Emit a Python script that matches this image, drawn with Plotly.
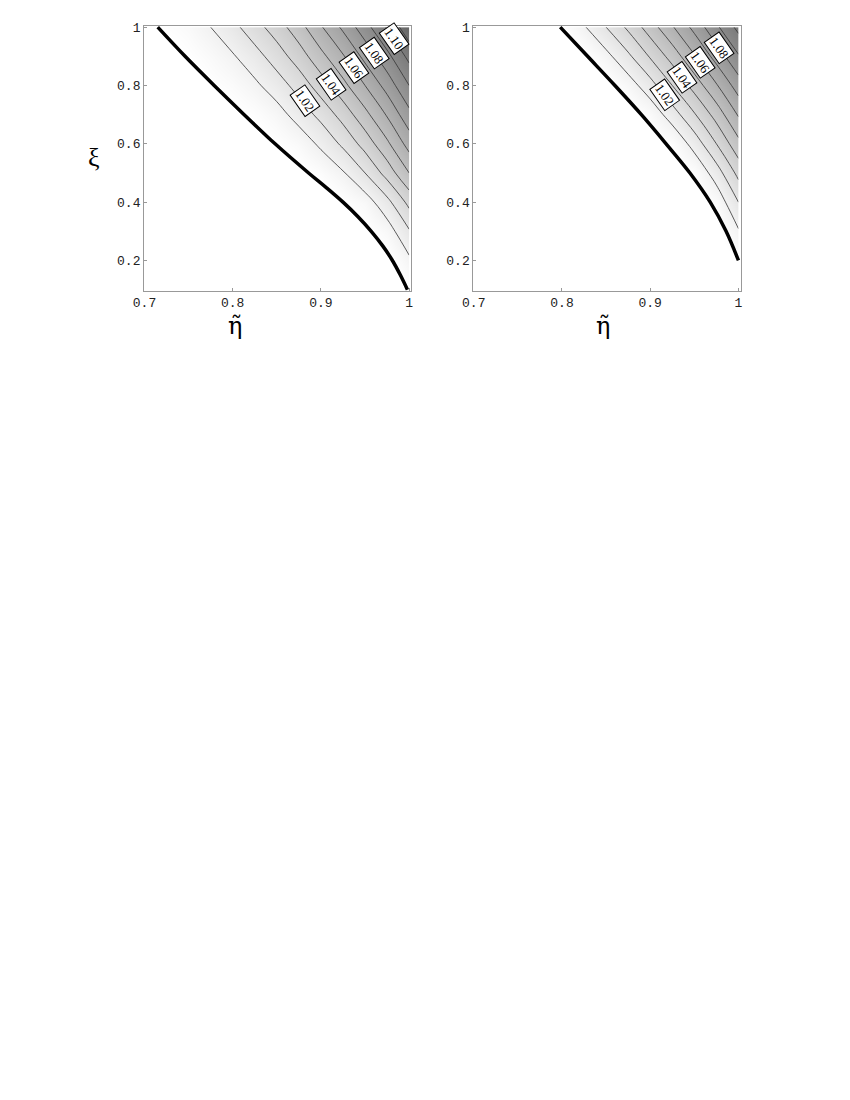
import plotly.graph_objects as go

# ─── Data ─────────────────────────────────────────────────────────────────────

eta = [0.700, 0.725, 0.750, 0.775, 0.800, 0.825, 0.850, 0.875, 0.900, 0.925, 0.950, 0.975, 1.000]
xi = [0.1, 0.2, 0.3, 0.4, 0.5, 0.6, 0.7, 0.8, 0.9, 1.0]

# one row per xi value, one column per eta value
z_left = [
    [0.940, 0.945, 0.950, 0.955, 0.960, 0.965, 0.970, 0.975, 0.980, 0.985, 0.990, 0.995, 1.000],
    [0.943, 0.948, 0.953, 0.958, 0.963, 0.968, 0.973, 0.978, 0.983, 0.988, 0.993, 0.998, 1.008],
    [0.949, 0.954, 0.959, 0.964, 0.969, 0.974, 0.979, 0.984, 0.989, 0.994, 0.999, 1.005, 1.019],
    [0.955, 0.960, 0.965, 0.970, 0.975, 0.980, 0.985, 0.990, 0.995, 1.000, 1.005, 1.017, 1.033],
    [0.963, 0.968, 0.973, 0.978, 0.983, 0.988, 0.993, 0.998, 1.002, 1.009, 1.020, 1.034, 1.050],
    [0.971, 0.976, 0.981, 0.986, 0.991, 0.996, 1.000, 1.004, 1.012, 1.022, 1.034, 1.048, 1.064],
    [0.978, 0.983, 0.988, 0.993, 0.998, 1.001, 1.006, 1.014, 1.023, 1.034, 1.047, 1.061, 1.077],
    [0.985, 0.990, 0.995, 1.000, 1.003, 1.008, 1.015, 1.024, 1.035, 1.047, 1.060, 1.074, 1.090],
    [0.991, 0.996, 1.000, 1.004, 1.009, 1.016, 1.025, 1.035, 1.047, 1.059, 1.073, 1.087, 1.103],
    [0.997, 1.001, 1.004, 1.010, 1.017, 1.026, 1.035, 1.046, 1.059, 1.072, 1.086, 1.101, 1.117],
]

z_right = [
    [0.937, 0.942, 0.947, 0.952, 0.957, 0.962, 0.967, 0.972, 0.977, 0.982, 0.987, 0.992, 0.997],
    [0.940, 0.945, 0.950, 0.955, 0.960, 0.965, 0.970, 0.975, 0.980, 0.985, 0.990, 0.995, 1.000],
    [0.943, 0.948, 0.953, 0.958, 0.963, 0.968, 0.973, 0.978, 0.983, 0.988, 0.993, 0.998, 1.009],
    [0.946, 0.951, 0.956, 0.961, 0.966, 0.971, 0.976, 0.981, 0.986, 0.991, 0.996, 1.003, 1.020],
    [0.951, 0.956, 0.961, 0.966, 0.971, 0.976, 0.981, 0.986, 0.991, 0.996, 1.001, 1.015, 1.033],
    [0.956, 0.961, 0.966, 0.971, 0.976, 0.981, 0.986, 0.991, 0.996, 1.001, 1.014, 1.030, 1.047],
    [0.962, 0.967, 0.972, 0.977, 0.982, 0.987, 0.992, 0.997, 1.003, 1.015, 1.029, 1.044, 1.061],
    [0.968, 0.973, 0.978, 0.983, 0.988, 0.993, 0.998, 1.005, 1.016, 1.030, 1.044, 1.059, 1.075],
    [0.974, 0.979, 0.984, 0.989, 0.994, 0.999, 1.007, 1.018, 1.031, 1.044, 1.059, 1.074, 1.089],
    [0.980, 0.985, 0.990, 0.995, 1.000, 1.009, 1.020, 1.032, 1.045, 1.059, 1.073, 1.088, 1.103],
]

# thick boundary curves
bound_left_eta = [0.715, 0.746, 0.779, 0.813, 0.848, 0.886, 0.906, 0.925, 0.942, 0.957, 0.970, 0.981, 0.990, 0.998]
bound_left_xi = [1.00, 0.90, 0.80, 0.70, 0.60, 0.50, 0.45, 0.40, 0.35, 0.30, 0.25, 0.20, 0.15, 0.10]
bound_right_eta = [0.798, 0.829, 0.860, 0.890, 0.918, 0.945, 0.968, 0.986, 1.000]
bound_right_xi = [1.00, 0.90, 0.80, 0.70, 0.60, 0.50, 0.40, 0.30, 0.20]

# contour labels
lab_left_text = ["1.02", "1.04", "1.06", "1.08", "1.10"]
lab_left_eta = [0.882, 0.912, 0.937, 0.961, 0.983]
lab_left_xi = [0.750, 0.805, 0.860, 0.911, 0.962]
lab_right_text = ["1.02", "1.04", "1.06", "1.08"]
lab_right_eta = [0.916, 0.936, 0.957, 0.978]
lab_right_xi = [0.768, 0.826, 0.880, 0.931]

x_ticks = [0.7, 0.8, 0.9, 1.0]
x_ticktext = ["0.7", "0.8", "0.9", "1"]
y_ticks = [0.2, 0.4, 0.6, 0.8, 1.0]
y_ticktext = ["0.2", "0.4", "0.6", "0.8", "1"]

# ─── Figure ───────────────────────────────────────────────────────────────────

GRAYS = [[0.0, "rgb(255,255,255)"], [1.0, "rgb(85,85,85)"]]
TICKFONT = dict(family="Liberation Mono", size=13, color="#222")
LABELFONT = dict(family="Liberation Serif", size=13, color="black")

fig = go.Figure()

panels = [
    ("x", "y", z_left, bound_left_eta, bound_left_xi, lab_left_text, lab_left_eta, lab_left_xi),
    ("x2", "y2", z_right, bound_right_eta, bound_right_xi, lab_right_text, lab_right_eta, lab_right_xi),
]

for xa, ya, z, b_eta, b_xi, l_text, l_eta, l_xi in panels:
    fig.add_trace(go.Contour(
        x=eta, y=xi, z=z, xaxis=xa, yaxis=ya,
        colorscale=GRAYS, zmin=1.0, zmax=1.13, zauto=False, showscale=False,
        autocontour=False,
        contours=dict(start=1.01, end=1.2, size=0.01, coloring="heatmap", showlabels=False),
        line=dict(color="#333", width=0.8, smoothing=1.3),
        hoverinfo="skip",
    ))
    fig.add_trace(go.Scatter(
        x=b_eta, y=b_xi, xaxis=xa, yaxis=ya, mode="lines",
        line=dict(color="black", width=3.5, shape="spline", smoothing=1.0),
        showlegend=False, hoverinfo="skip",
    ))
    for t, ex, yx in zip(l_text, l_eta, l_xi):
        fig.add_annotation(
            x=ex, y=yx, xref=xa, yref=ya, text=t, showarrow=False,
            textangle=55, font=LABELFONT, bgcolor="white",
            bordercolor="black", borderwidth=1, borderpad=1,
        )

axis_common = dict(
    showgrid=False, zeroline=False, showline=True, mirror=True,
    linecolor="#999", linewidth=1, ticks="inside", ticklen=3,
    tickcolor="#999", tickfont=TICKFONT,
)

fig.update_layout(
    width=850, height=1100,
    margin=dict(l=0, r=0, t=0, b=0),
    paper_bgcolor="white", plot_bgcolor="white",
    showlegend=False,
    xaxis=dict(domain=[0.1494, 0.4688], range=[0.6995, 1.0025],
               tickvals=x_ticks, ticktext=x_ticktext, anchor="y", **axis_common),
    yaxis=dict(domain=[0.7463, 0.9884], range=[0.096, 1.005],
               tickvals=y_ticks, ticktext=y_ticktext, anchor="x", **axis_common),
    xaxis2=dict(domain=[0.5428, 0.8622], range=[0.6995, 1.0025],
                tickvals=x_ticks, ticktext=x_ticktext, anchor="y2", **axis_common),
    yaxis2=dict(domain=[0.7463, 0.9884], range=[0.096, 1.005],
                tickvals=y_ticks, ticktext=y_ticktext, anchor="x2", **axis_common),
)

TITLEFONT = dict(family="DejaVu Serif", size=24, color="black")
for fx in (0.247, 0.708):
    fig.add_annotation(x=fx, y=0.729, xref="paper", yref="paper", text="\u03b7\u0303",
                       showarrow=False, font=TITLEFONT)
fig.add_annotation(x=0.080, y=0.883, xref="paper", yref="paper", text="\u03be",
                   showarrow=False, font=dict(family="Liberation Serif", size=26, color="black"))

fig.write_html("out.html")
